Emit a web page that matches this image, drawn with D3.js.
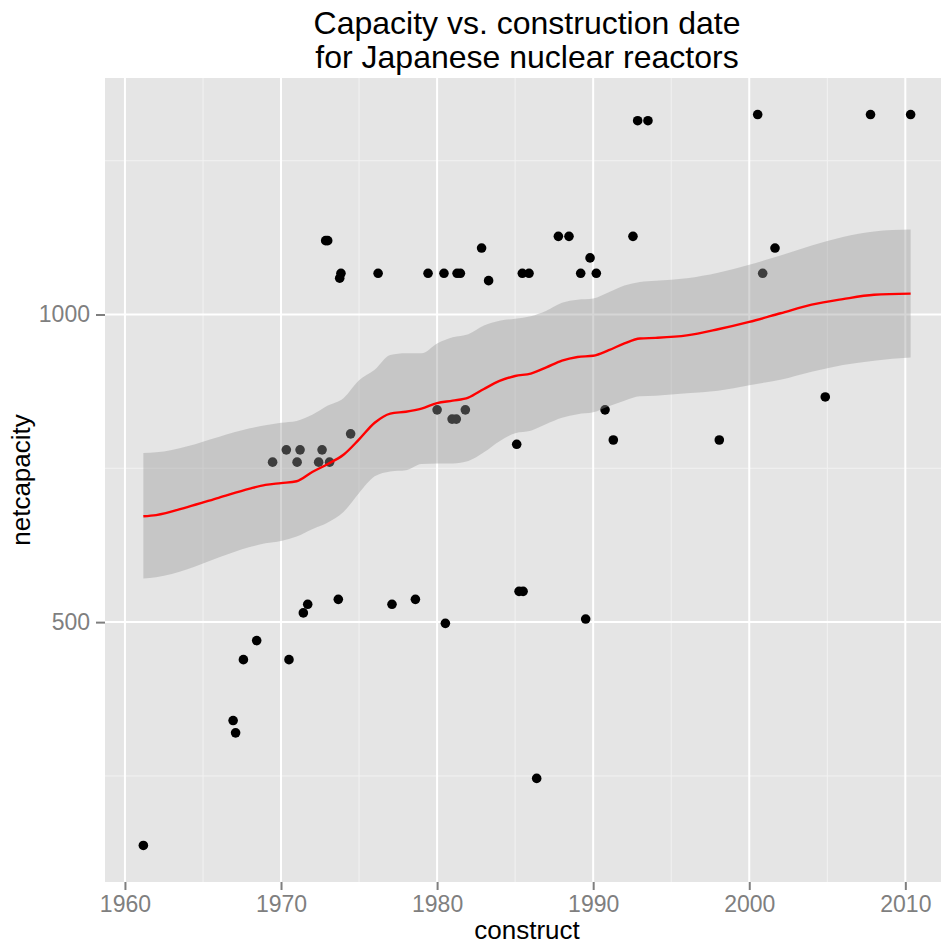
<!DOCTYPE html>
<html>
<head>
<meta charset="utf-8">
<script src="https://cdn.jsdelivr.net/npm/d3@7"></script>
<style>
    body { margin: 0; background: #ffffff; }
    text { font-family: "Liberation Sans", Arial, sans-serif; }
</style>
</head>
<body>
<svg id="chart" width="941" height="947"></svg>
<script>

// reactors: construction date and net capacity (MW)
const construct = [
    1961.18, 1966.93, 1967.09, 1967.59, 1968.44, 1969.46, 1970.34, 1970.51, 1971.03, 1971.22,
    1971.43, 1971.71, 1972.41, 1972.63, 1972.86, 1972.99, 1973.11, 1973.67, 1973.76, 1973.84,
    1974.46, 1976.22, 1977.11, 1978.61, 1979.42, 1980.00, 1980.44, 1980.53, 1980.96, 1981.23,
    1981.28, 1981.49, 1981.81, 1982.85, 1983.30, 1985.10, 1985.25, 1985.46, 1985.51, 1985.89,
    1986.38, 1987.77, 1988.45, 1989.20, 1989.52, 1989.80, 1990.20, 1990.76, 1991.29, 1992.55,
    1992.85, 1993.51, 1998.08, 2000.54, 2000.86, 2001.65, 2004.87, 2007.77, 2010.34
];
const netcapacity = [
    137, 340, 320, 439, 470, 760, 780, 439, 760, 780,
    515, 529, 760, 780, 1120, 1120, 760, 537, 1059, 1067,
    806, 1067, 529, 537, 1067, 845, 1067, 498, 830, 830,
    1067, 1067, 845, 1108, 1055, 789, 550, 1067, 550, 1067,
    246, 1127, 1127, 1067, 505, 1092, 1067, 845, 796, 1127,
    1315, 1315, 796, 1325, 1067, 1108, 866, 1325, 1325
];

// loess fit and its confidence band
const smoothYear = [1961.18, 1962, 1964, 1966, 1968, 1969, 1970, 1971, 1972, 1973, 1974, 1975, 1976,
    1977, 1978, 1979, 1980, 1981, 1982, 1983, 1984, 1985, 1986, 1987, 1988, 1989, 1990, 1991, 1992,
    1993, 1994, 1996, 1998, 2000, 2002, 2004, 2006, 2008, 2010.34];
const smoothFit = [672, 674, 687, 702, 717, 723, 726, 729, 744, 757, 772, 797, 824,
    839, 842, 847, 856, 860, 865, 879, 892, 900, 904, 914, 925, 931, 933, 942, 953,
    961, 962, 966, 976, 988, 1002, 1016, 1025, 1032, 1034];
const smoothUpper = [775, 776, 786, 801, 815, 820, 824, 827, 837, 852, 864, 893, 910,
    934, 937, 937, 953, 963, 968, 982, 990, 993, 997, 1006, 1019, 1024, 1026, 1036, 1047,
    1053, 1055, 1059, 1068, 1081, 1096, 1112, 1126, 1135, 1138];
const smoothLower = [571, 573, 586, 605, 622, 628, 632, 639, 651, 662, 679, 710, 737,
    745, 747, 757, 758, 758, 762, 776, 794, 807, 811, 822, 832, 838, 841, 851, 860,
    867, 868, 872, 876, 885, 894, 907, 918, 925, 930];

const xBreaks = [1960, 1970, 1980, 1990, 2000, 2010];
const xMinor = [1965, 1975, 1985, 1995, 2005];
const yBreaks = [500, 1000];
const yMinor = [250, 750, 1250];

const titleLines = ['Capacity vs. construction date', 'for Japanese nuclear reactors'];

drawChart();

function drawChart () {

    const svg = d3.select('#chart');
    const panel = {left: 105, top: 78, width: 844, height: 804};

    const x = d3.scaleLinear()
        .domain(expand(d3.extent(construct)))
        .range([panel.left, panel.left + panel.width]);
    const y = d3.scaleLinear()
        .domain(expand(d3.extent(netcapacity)))
        .range([panel.top + panel.height, panel.top]);

    const g = svg.append('g');

    g.append('rect')
        .attr('x', panel.left)
        .attr('y', panel.top)
        .attr('width', panel.width)
        .attr('height', panel.height)
        .attr('fill', '#e5e5e5');

    // grid
    g.selectAll('.xminor').data(xMinor).enter().append('line')
        .attr('x1', d => x(d)).attr('x2', d => x(d))
        .attr('y1', panel.top).attr('y2', panel.top + panel.height)
        .attr('stroke', '#f2f2f2').attr('stroke-width', 1);
    g.selectAll('.yminor').data(yMinor).enter().append('line')
        .attr('y1', d => y(d)).attr('y2', d => y(d))
        .attr('x1', panel.left).attr('x2', panel.left + panel.width)
        .attr('stroke', '#f2f2f2').attr('stroke-width', 1);
    g.selectAll('.xmajor').data(xBreaks).enter().append('line')
        .attr('x1', d => x(d)).attr('x2', d => x(d))
        .attr('y1', panel.top).attr('y2', panel.top + panel.height)
        .attr('stroke', '#ffffff').attr('stroke-width', 2);
    g.selectAll('.ymajor').data(yBreaks).enter().append('line')
        .attr('y1', d => y(d)).attr('y2', d => y(d))
        .attr('x1', panel.left).attr('x2', panel.left + panel.width)
        .attr('stroke', '#ffffff').attr('stroke-width', 2);

    // points first, smooth drawn over them
    g.selectAll('.pt').data(construct).enter().append('circle')
        .attr('cx', d => x(d))
        .attr('cy', (d, i) => y(netcapacity[i]))
        .attr('r', 4.8)
        .attr('fill', '#000000');

    const smooth = smoothYear.map((d, i) => ({x: d, fit: smoothFit[i], lo: smoothLower[i], hi: smoothUpper[i]}));

    g.append('path')
        .datum(smooth)
        .attr('d', d3.area()
            .x(d => x(d.x))
            .y0(d => y(d.lo))
            .y1(d => y(d.hi))
            .curve(d3.curveMonotoneX))
        .attr('fill', '#999999')
        .attr('fill-opacity', 0.4);

    g.append('path')
        .datum(smooth)
        .attr('d', d3.line()
            .x(d => x(d.x))
            .y(d => y(d.fit))
            .curve(d3.curveMonotoneX))
        .attr('fill', 'none')
        .attr('stroke', '#ff0000')
        .attr('stroke-width', 2.4);

    // axes
    const xAxis = svg.append('g')
        .attr('transform', 'translate(0,' + (panel.top + panel.height) + ')')
        .call(d3.axisBottom(x).tickValues(xBreaks).tickFormat(d3.format('d')).tickSize(8).tickPadding(6));
    const yAxis = svg.append('g')
        .attr('transform', 'translate(' + panel.left + ',0)')
        .call(d3.axisLeft(y).tickValues(yBreaks).tickFormat(d3.format('d')).tickSize(9).tickPadding(6));

    [xAxis, yAxis].forEach(a => {
        a.select('.domain').remove();
        a.selectAll('.tick line').attr('stroke', '#7f7f7f').attr('stroke-width', 2);
        a.selectAll('.tick text')
            .attr('fill', '#7f7f7f')
            .style('font-size', '23px')
            .style('font-family', '"Liberation Sans", Arial, sans-serif');
    });

    svg.append('text')
        .attr('x', panel.left + panel.width / 2)
        .attr('y', 939)
        .attr('text-anchor', 'middle')
        .style('font-size', '26px')
        .text('construct');

    svg.append('text')
        .attr('transform', 'translate(30,' + (panel.top + panel.height / 2) + ') rotate(-90)')
        .attr('text-anchor', 'middle')
        .style('font-size', '26px')
        .text('netcapacity');

    svg.selectAll('.title').data(titleLines).enter().append('text')
        .attr('x', panel.left + panel.width / 2)
        .attr('y', (d, i) => 34 + i * 34)
        .attr('text-anchor', 'middle')
        .style('font-size', '32px')
        .text(d => d);
}

function expand (ext) {
    const pad = (ext[1] - ext[0]) * 0.05;
    return [ext[0] - pad, ext[1] + pad];
}

</script>
</body>
</html>
